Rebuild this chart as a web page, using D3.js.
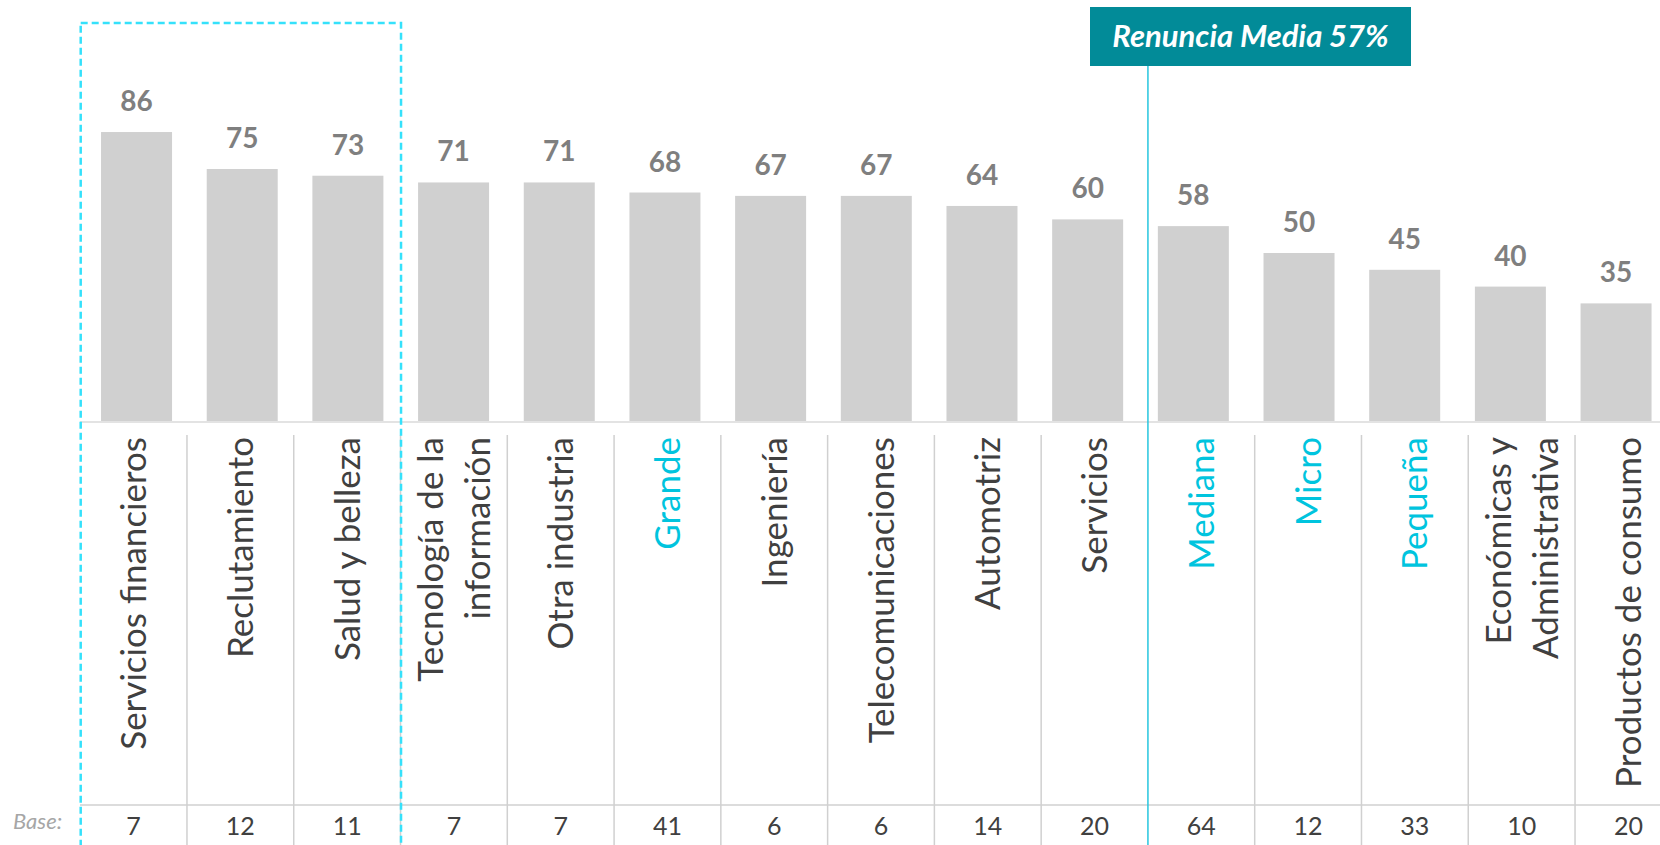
<!DOCTYPE html>
<html>
<head>
<meta charset="utf-8">
<script src="https://cdn.jsdelivr.net/npm/d3@7"></script>
<style>
  body { margin: 0; background: #fff; }
  svg { display: block; font-family: Lato, 'Open Sans', sans-serif; }
</style>
</head>
<body>
<div id="chart"></div>
<script>
// data
const categories = ['Servicios financieros', 'Reclutamiento', 'Salud y belleza',
  'Tecnología de la\ninformación', 'Otra industria', 'Grande', 'Ingeniería',
  'Telecomunicaciones', 'Automotriz', 'Servicios', 'Mediana', 'Micro', 'Pequeña',
  'Económicas y\nAdministrativa', 'Productos de consumo']
const values = [86, 75, 73, 71, 71, 68, 67, 67, 64, 60, 58, 50, 45, 40, 35]
const bases = [7, 12, 11, 7, 7, 41, 6, 6, 14, 20, 64, 12, 33, 10, 20]
const sizeCategories = ['Grande', 'Mediana', 'Micro', 'Pequeña']   // cyan labels
const topGroup = ['Servicios financieros', 'Reclutamiento', 'Salud y belleza']
const meanValue = 57
const meanBefore = 'Mediana'   // the mean line sits left of this column

const W = 1660
const H = 845
const baseY = 421        // bar baseline
const labelTop = 437     // where category labels end
const tableLineY = 805   // line above the "Base" row

const data = categories.map((c, i) => ({cat: c, value: values[i], base: bases[i]}))

const svg = d3.select('#chart').append('svg')
  .attr('width', W)
  .attr('height', H)

// scales: bars and the label table have slightly different pitch
const xBar = d3.scaleBand().domain(categories).range([83.7, 1668.9])
const xTab = d3.scaleBand().domain(categories).range([80.2, 1681.8])
const barW = 71
const y = d3.scaleLinear().domain([0, 100]).range([baseY, 85])

// table grid
const grid = svg.append('g').attr('stroke', '#d0d0d0').attr('stroke-width', 1.5)
grid.append('line')
  .attr('x1', 80).attr('x2', W)
  .attr('y1', tableLineY).attr('y2', tableLineY)
grid.selectAll('.divider')
  .data(categories.slice(1).filter(c => c !== meanBefore))
  .enter().append('line')
  .classed('divider', true)
  .attr('x1', d => xTab(d)).attr('x2', d => xTab(d))
  .attr('y1', 435).attr('y2', H)

// axis line
svg.append('line')
  .attr('x1', 80).attr('x2', W)
  .attr('y1', baseY + 1).attr('y2', baseY + 1)
  .attr('stroke', '#e3e3e3')
  .attr('stroke-width', 2)

// bars
svg.append('g').selectAll('rect')
  .data(data)
  .enter().append('rect')
  .attr('x', d => xBar(d.cat) + (xBar.bandwidth() - barW) / 2)
  .attr('y', d => y(d.value))
  .attr('width', barW)
  .attr('height', d => y(0) - y(d.value))
  .attr('fill', '#d0d0d0')

// value labels
svg.append('g').selectAll('text')
  .data(data)
  .enter().append('text')
  .attr('x', d => xBar(d.cat) + xBar.bandwidth() / 2)
  .attr('y', d => y(d.value) - 21)
  .attr('text-anchor', 'middle')
  .attr('font-size', 28)
  .attr('font-weight', 700)
  .attr('fill', '#7f7f7f')
  .text(d => d.value)

// category labels, rotated
const fs = 35
const lineGap = 47
const capH = fs * 0.72
const labels = svg.append('g').selectAll('text')
  .data(data)
  .enter().append('text')
  .attr('transform', d => `translate(${xTab(d.cat) + xTab.bandwidth() / 2},${labelTop}) rotate(-90)`)
  .attr('text-anchor', 'end')
  .attr('font-size', fs)
  .attr('fill', d => sizeCategories.includes(d.cat) ? '#00c4de' : '#404040')
labels.each(function (d) {
  let lines = d.cat.split('\n')
  let off = -(lines.length - 1) * lineGap / 2 + capH / 2
  lines.forEach((ln, i) => {
    d3.select(this).append('tspan')
      .attr('x', 0)
      .attr('y', off + i * lineGap)
      .text(ln)
  })
})

// base row
svg.append('text')
  .attr('x', 13)
  .attr('y', 829)
  .attr('font-size', 22)
  .attr('font-style', 'italic')
  .attr('fill', '#a6a6a6')
  .text('Base:')
svg.append('g').selectAll('text')
  .data(data)
  .enter().append('text')
  .attr('x', d => xTab(d.cat) + xTab.bandwidth() / 2)
  .attr('y', 835)
  .attr('text-anchor', 'middle')
  .attr('font-size', 25)
  .attr('fill', '#404040')
  .text(d => d.base)

// dashed box around the top group
let gx0 = xTab(topGroup[0])
let gx1 = xTab(topGroup[topGroup.length - 1]) + xTab.bandwidth()
svg.append('rect')
  .attr('x', gx0 + 0.5)
  .attr('y', 23)
  .attr('width', gx1 - gx0)
  .attr('height', H)
  .attr('fill', 'none')
  .attr('stroke', '#35e1fb')
  .attr('stroke-width', 2.5)
  .attr('stroke-dasharray', '7,4')

// mean line + callout
let mx = xTab(meanBefore)
svg.append('line')
  .attr('x1', mx).attr('x2', mx)
  .attr('y1', 66).attr('y2', H)
  .attr('stroke', '#27c6df')
  .attr('stroke-width', 1.5)
svg.append('rect')
  .attr('x', 1090)
  .attr('y', 7)
  .attr('width', 321)
  .attr('height', 59)
  .attr('fill', '#028b98')
svg.append('text')
  .attr('x', 1090 + 321 / 2)
  .attr('y', 47)
  .attr('text-anchor', 'middle')
  .attr('font-size', 31)
  .attr('font-weight', 700)
  .attr('font-style', 'italic')
  .attr('fill', '#fff')
  .text(`Renuncia Media ${meanValue}%`)
</script>
</body>
</html>
